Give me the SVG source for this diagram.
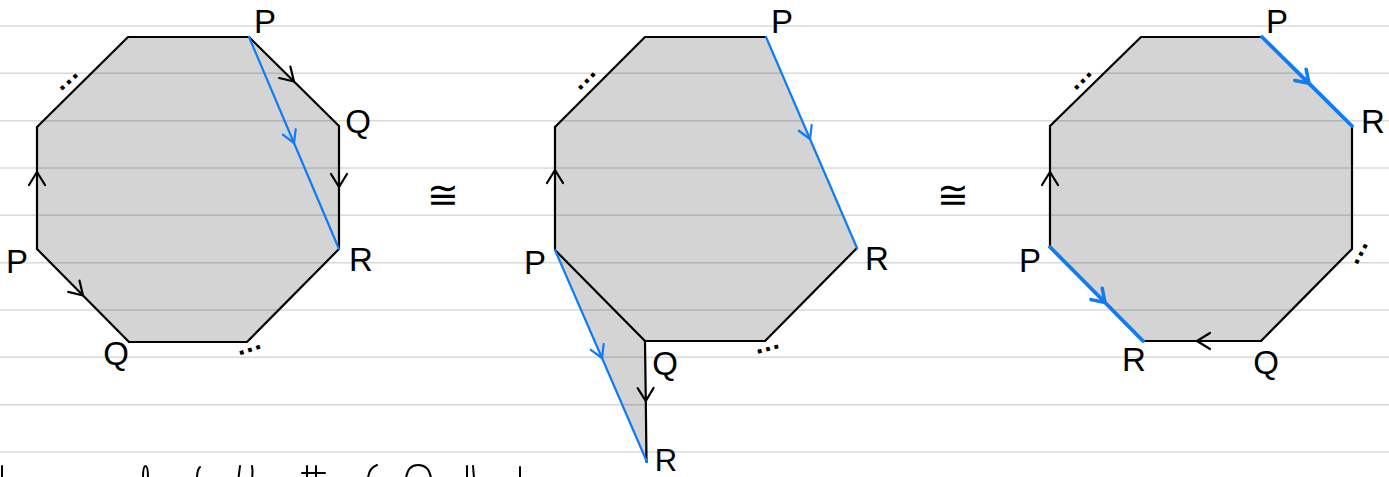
<svg xmlns="http://www.w3.org/2000/svg" width="1389" height="477" viewBox="0 0 1389 477">
<style>
  .fill { fill: #d4d4d4; stroke: none; }
  .rule { stroke: #000; stroke-opacity: 0.15; stroke-width: 1.6; fill: none; }
  .edge { fill: none; stroke: #000; stroke-width: 2.2; stroke-linecap: round; stroke-linejoin: round; }
  .blue { fill: none; stroke: #0f7bf5; stroke-width: 2.2; stroke-linecap: round; }
  .blue3 { fill: none; stroke: #0f7bf5; stroke-width: 3.8; stroke-linecap: round; }
  .lbl { font-family: "Liberation Sans", Arial, sans-serif; font-size: 33px; fill: #000; text-anchor: middle; }
  .dots { font-family: "Liberation Sans", Arial, sans-serif; font-size: 27px; font-weight: bold; fill: #000; text-anchor: middle; }
  .cong { font-family: "DejaVu Sans", sans-serif; font-size: 38px; fill: #000; text-anchor: middle; }
  .frag { fill: none; stroke: #000; stroke-width: 2; stroke-linecap: round; }
</style>
<defs>
  <marker id="arrK" viewBox="-16 -10 18 20" markerWidth="18" markerHeight="20" refX="0" refY="0" orient="auto" markerUnits="userSpaceOnUse">
    <path d="M-13,-8 L0,0 L-13,8" fill="none" stroke="#000" stroke-width="2.2" stroke-linecap="round" stroke-linejoin="round"/>
  </marker>
  <marker id="arrB" viewBox="-16 -10 18 20" markerWidth="18" markerHeight="20" refX="0" refY="0" orient="auto" markerUnits="userSpaceOnUse">
    <path d="M-12,-7 L0,0 L-12,7" fill="none" stroke="#0f7bf5" stroke-width="2.2" stroke-linecap="round" stroke-linejoin="round"/>
  </marker>
  <marker id="arrB3" viewBox="-16 -10 18 20" markerWidth="18" markerHeight="20" refX="0" refY="0" orient="auto" markerUnits="userSpaceOnUse">
    <path d="M-12,-8 L0,0 L-12,8" fill="none" stroke="#0f7bf5" stroke-width="3.5" stroke-linecap="round" stroke-linejoin="round"/>
  </marker>
</defs>
<rect width="1389" height="477" fill="#fff"/>

<g id="fills">
  <polygon class="fill" points="128,37 249,37 339,126 339,249 247,342 129,342 37,249 37,127"/>
  <polygon class="fill" points="645,37 766,37 857,248 765,341 645,341 647,462 555,250 555,127"/>
  <polygon class="fill" points="1141,37 1262,37 1352,126 1352,249 1261,341 1143,341 1050,247 1050,126"/>
</g>

<g id="ruled-lines">
  <line class="rule" x1="0" y1="26" x2="1389" y2="26"/>
  <line class="rule" x1="0" y1="73.3" x2="1389" y2="73.3"/>
  <line class="rule" x1="0" y1="120.7" x2="1389" y2="120.7"/>
  <line class="rule" x1="0" y1="168" x2="1389" y2="168"/>
  <line class="rule" x1="0" y1="215.3" x2="1389" y2="215.3"/>
  <line class="rule" x1="0" y1="262.7" x2="1389" y2="262.7"/>
  <line class="rule" x1="0" y1="310" x2="1389" y2="310"/>
  <line class="rule" x1="0" y1="357.3" x2="1389" y2="357.3"/>
  <line class="rule" x1="0" y1="404.7" x2="1389" y2="404.7"/>
  <line class="rule" x1="0" y1="452" x2="1389" y2="452"/>
</g>

<g id="connectors">
  <!-- octagon 1 -->
  <path class="edge" d="M37,127 L128,37 L249,37"/>
  <path class="edge" d="M249,37 L294,81.5 L339,126" marker-mid="url(#arrK)"/>
  <path class="edge" d="M339,126 L339,187 L339,249" marker-mid="url(#arrK)"/>
  <path class="edge" d="M339,249 L247,342 L129,342"/>
  <path class="edge" d="M37,249 L83,295.5 L129,342" marker-mid="url(#arrK)"/>
  <path class="edge" d="M37,249 L37,172 L37,127" marker-mid="url(#arrK)"/>
  <path class="blue" d="M249,37 L294,143 L339,249" marker-mid="url(#arrB)"/>
  <!-- octagon 2 -->
  <path class="edge" d="M555,127 L645,37 L766,37"/>
  <path class="edge" d="M857,248 L765,341 L645,341"/>
  <path class="edge" d="M555,250 L645,341"/>
  <path class="edge" d="M645,341 L645.8,401 L646.5,462" marker-mid="url(#arrK)"/>
  <path class="edge" d="M555,250 L555,170 L555,127" marker-mid="url(#arrK)"/>
  <path class="blue" d="M766,37 L810,139 L857,248" marker-mid="url(#arrB)"/>
  <path class="blue" d="M555,250 L602,358 L647,462" marker-mid="url(#arrB)"/>
  <!-- octagon 3 -->
  <path class="edge" d="M1050,126 L1141,37 L1262,37"/>
  <path class="edge" d="M1352,126 L1352,249 L1261,341"/>
  <path class="edge" d="M1261,341 L1197,341 L1143,341" marker-mid="url(#arrK)"/>
  <path class="edge" d="M1050,247 L1050,172 L1050,126" marker-mid="url(#arrK)"/>
  <path class="blue3" d="M1262,37 L1309,83.3 L1352,126" marker-mid="url(#arrB3)"/>
  <path class="blue3" d="M1050,247 L1105,302.5 L1143,341" marker-mid="url(#arrB3)"/>
</g>

<g id="octagon1-labels">
  <text class="lbl" x="265" y="33">P</text>
  <text class="lbl" x="358" y="133">Q</text>
  <text class="lbl" x="361" y="271">R</text>
  <text class="lbl" x="17" y="273">P</text>
  <text class="lbl" x="116" y="365">Q</text>
  <text class="dots" transform="translate(69,82) rotate(-42)" x="0" y="2">…</text>
  <text class="dots" transform="translate(250,350) rotate(-18)" x="0" y="2">…</text>
</g>

<g id="cong1"><text class="cong" x="443" y="208">≅</text></g>

<g id="octagon2-labels">
  <text class="lbl" x="782" y="33">P</text>
  <text class="lbl" x="535" y="274">P</text>
  <text class="lbl" x="665" y="375">Q</text>
  <text class="lbl" x="877" y="270">R</text>
  <text class="lbl" x="666" y="471" style="font-size:31px">R</text>
  <text class="dots" transform="translate(587,81) rotate(-45)" x="0" y="2">…</text>
  <text class="dots" transform="translate(768,349) rotate(-15)" x="0" y="2">…</text>
</g>

<g id="cong2"><text class="cong" x="953" y="208">≅</text></g>

<g id="octagon3-labels">
  <text class="lbl" x="1277" y="33">P</text>
  <text class="lbl" x="1373" y="133">R</text>
  <text class="lbl" x="1030" y="272">P</text>
  <text class="lbl" x="1134" y="371">R</text>
  <text class="lbl" x="1266" y="374">Q</text>
  <text class="dots" transform="translate(1083,81) rotate(-45)" x="0" y="2">…</text>
  <text class="dots" transform="translate(1361,254) rotate(-62)" x="0" y="2">…</text>
</g>

<g id="cut-off-handwriting">
  <path class="frag" d="M2,466 L2,478"/>
  <path class="frag" d="M143,478 Q143,466 145.5,466 Q148,466 148,478"/>
  <path class="frag" d="M200,467 Q197,470 197,478"/>
  <path class="frag" d="M240,466 L238.5,478"/>
  <path class="frag" d="M252,466 Q253,472 252,478"/>
  <path class="frag" d="M307,466 L307,478 M316,466 L316,478 M302,473 L325,473"/>
  <path class="frag" d="M377,465 Q369,468 368,478"/>
  <path class="frag" d="M406,478 Q408,465 418,465 Q429,465 431,478"/>
  <path class="frag" d="M467,466 L467,478 M473,466 L474,478"/>
  <path class="frag" d="M520,467 L520,478"/>
</g>
</svg>
